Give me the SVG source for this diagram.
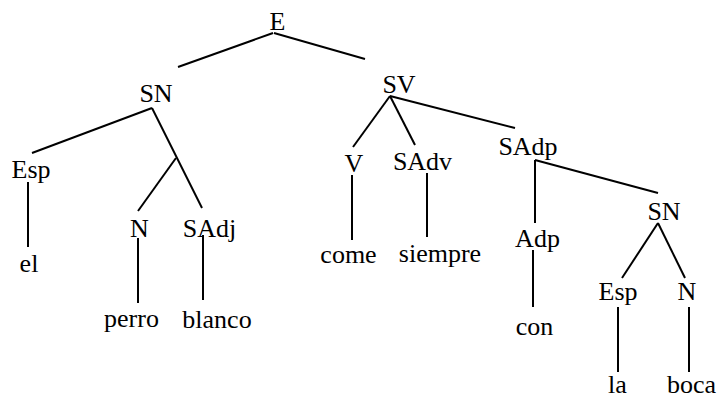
<svg xmlns="http://www.w3.org/2000/svg" width="719" height="398" viewBox="0 0 719 398">
<rect width="719" height="398" fill="#fff"/>
<g id="connectors" stroke="#000" stroke-width="2">
<line x1="273" y1="33" x2="178" y2="67"/>
<line x1="274" y1="33" x2="365" y2="59"/>
<line x1="152" y1="108" x2="32" y2="153"/>
<line x1="152" y1="108" x2="202" y2="208"/>
<line x1="176" y1="158" x2="138" y2="211"/>
<line x1="28" y1="182" x2="28" y2="247"/>
<line x1="138" y1="238" x2="138" y2="303"/>
<line x1="203" y1="235" x2="203" y2="300"/>
<line x1="390" y1="96" x2="353" y2="147"/>
<line x1="390" y1="96" x2="415" y2="145"/>
<line x1="390" y1="96" x2="515" y2="128"/>
<line x1="352" y1="175" x2="352" y2="240"/>
<line x1="427" y1="173" x2="427" y2="237"/>
<line x1="535" y1="160" x2="535" y2="223"/>
<line x1="535" y1="160" x2="658" y2="193"/>
<line x1="533" y1="250" x2="533" y2="307"/>
<line x1="658" y1="223" x2="622" y2="278"/>
<line x1="658" y1="223" x2="685" y2="278"/>
<line x1="618" y1="307" x2="618" y2="372"/>
<line x1="689" y1="307" x2="689" y2="372"/>
</g>
<g id="n-E"><text font-family="Liberation Serif" font-size="26" text-anchor="middle" x="277.5" y="30">E</text></g>
<g id="n-SN1"><text font-family="Liberation Serif" font-size="26" text-anchor="middle" x="156" y="102">SN</text></g>
<g id="n-SV"><text font-family="Liberation Serif" font-size="26" text-anchor="middle" x="399" y="93">SV</text></g>
<g id="n-Esp1"><text font-family="Liberation Serif" font-size="26" text-anchor="middle" x="31" y="178">Esp</text></g>
<g id="n-N1"><text font-family="Liberation Serif" font-size="26" text-anchor="middle" x="139.5" y="237">N</text></g>
<g id="n-SAdj"><text font-family="Liberation Serif" font-size="26" text-anchor="middle" x="209.5" y="237">SAdj</text></g>
<g id="n-el"><text font-family="Liberation Serif" font-size="26" text-anchor="middle" x="29" y="272">el</text></g>
<g id="n-perro"><text font-family="Liberation Serif" font-size="26" text-anchor="middle" x="131.5" y="327">perro</text></g>
<g id="n-blanco"><text font-family="Liberation Serif" font-size="26" text-anchor="middle" x="217" y="328">blanco</text></g>
<g id="n-V"><text font-family="Liberation Serif" font-size="26" text-anchor="middle" x="354" y="172">V</text></g>
<g id="n-SAdv"><text font-family="Liberation Serif" font-size="26" text-anchor="middle" x="422.5" y="170">SAdv</text></g>
<g id="n-SAdp"><text font-family="Liberation Serif" font-size="26" text-anchor="middle" x="528" y="155">SAdp</text></g>
<g id="n-come"><text font-family="Liberation Serif" font-size="26" text-anchor="middle" x="348.5" y="263">come</text></g>
<g id="n-siempre"><text font-family="Liberation Serif" font-size="26" text-anchor="middle" x="440" y="262">siempre</text></g>
<g id="n-Adp"><text font-family="Liberation Serif" font-size="26" text-anchor="middle" x="537.5" y="247">Adp</text></g>
<g id="n-con"><text font-family="Liberation Serif" font-size="26" text-anchor="middle" x="534.5" y="335">con</text></g>
<g id="n-SN2"><text font-family="Liberation Serif" font-size="26" text-anchor="middle" x="664" y="220">SN</text></g>
<g id="n-Esp2"><text font-family="Liberation Serif" font-size="26" text-anchor="middle" x="618" y="300">Esp</text></g>
<g id="n-N2"><text font-family="Liberation Serif" font-size="26" text-anchor="middle" x="687" y="300">N</text></g>
<g id="n-la"><text font-family="Liberation Serif" font-size="26" text-anchor="middle" x="617.5" y="393">la</text></g>
<g id="n-boca"><text font-family="Liberation Serif" font-size="26" text-anchor="middle" x="691.5" y="393">boca</text></g>
</svg>
